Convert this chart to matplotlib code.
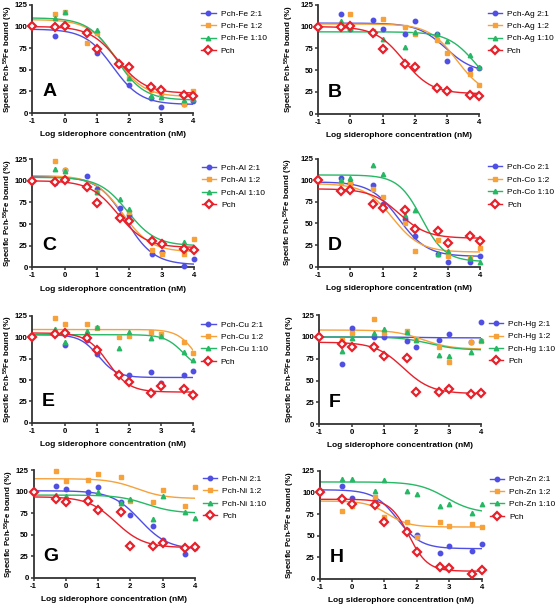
import numpy as np
import matplotlib
matplotlib.use('Agg')
import matplotlib.pyplot as plt

plt.rcParams['font.family'] = ['Liberation Sans', 'DejaVu Sans']
plt.rcParams['mathtext.fontset'] = 'custom'
plt.rcParams['mathtext.rm'] = 'Liberation Sans:bold'
plt.rcParams['mathtext.default'] = 'rm'
plt.rcParams['axes.unicode_minus'] = False

# log concentrations (nM)
x_pch = [-1, -0.3, 0, 0.7, 1, 1.7, 2, 2.7, 3, 3.7, 4]
x_mix = [-0.3, 0, 0.7, 1, 1.7, 2, 2.7, 3, 3.7, 4]

metals = ['Fe', 'Ag', 'Al', 'Co', 'Cu', 'Hg', 'Ni', 'Zn']
letters = ['A', 'B', 'C', 'D', 'E', 'F', 'G', 'H']
ratios = ['2:1', '1:2', '1:10']

# measured points, Pch-metal 2:1 / 1:2 / 1:10 and Pch alone
fe_21 = [89, 100, 95, 69, 55, 33, 17, 7, 10, 14]
fe_12 = [114, 117, 81, 93, 57, 40, 27, 22, 11, 25]
fe_110 = [110, 117, 95, 96, 58, 40, 20, 19, 15, 16]
ag_21 = [115, 97, 108, 97, 92, 106, 91, 60, 51, 52]
ag_12 = [103, 115, 95, 109, 99, 92, 85, 70, 46, 33]
ag_110 = [107, 98, 93, 86, 77, 94, 91, 83, 67, 54]
al_21 = [97, 113, 105, 91, 69, 60, 15, 18, 2, 10]
al_12 = [123, 112, 95, 87, 60, 64, 20, 15, 15, 33]
al_110 = [114, 111, 94, 87, 79, 67, 32, 29, 29, 21]
co_21 = [103, 97, 94, 72, 55, 36, 15, 5, 6, 12]
co_12 = [97, 96, 90, 80, 50, 18, 31, 12, 10, 22]
co_110 = [100, 102, 117, 107, 60, 65, 15, 18, 10, 5]
cu_21 = [104, 91, 97, 81, 57, 56, 59, 46, 56, 60]
cu_12 = [122, 116, 116, 111, 100, 102, 106, 104, 94, 82]
cu_110 = [110, 94, 107, 112, 87, 106, 99, 102, 83, 74]
hg_21 = [69, 110, 100, 100, 95, 89, 96, 104, 94, 117]
hg_12 = [97, 105, 121, 105, 107, 98, 89, 71, 94, 95]
hg_110 = [84, 99, 105, 109, 106, 96, 79, 78, 83, 97]
ni_21 = [107, 103, 99, 105, 88, 73, 60, 44, 28, 35]
ni_12 = [124, 112, 114, 121, 117, 89, 88, 102, 83, 105]
ni_110 = [96, 95, 94, 99, 87, 91, 68, 95, 76, 69]
zn_21 = [107, 94, 91, 68, 57, 51, 30, 38, 32, 40]
zn_12 = [78, 84, 95, 71, 66, 48, 66, 61, 63, 60]
zn_110 = [115, 115, 101, 114, 101, 98, 84, 86, 76, 87]

pch_ABC = [100, 99, 101, 93, 74, 57, 53.5, 30, 26.5, 21, 20]
pch_D = [100, 88, 89, 72.5, 68, 66, 44, 41, 28, 35.5, 30]
pch_E = [100, 104, 105, 99.5, 85.5, 56, 48, 35, 43, 39.5, 33]
pch_FG = [100, 92, 88.5, 89, 78.5, 76, 37, 37, 40.5, 35, 36]
pch_H = [100, 92, 87, 85, 66, 54, 31, 14, 13, 6, 10]

mix_points = [
    [fe_21, fe_12, fe_110], [ag_21, ag_12, ag_110],
    [al_21, al_12, al_110], [co_21, co_12, co_110],
    [cu_21, cu_12, cu_110], [hg_21, hg_12, hg_110],
    [ni_21, ni_12, ni_110], [zn_21, zn_12, zn_110],
]
pch_points = [pch_ABC, pch_ABC, pch_ABC, pch_D, pch_E, pch_FG, pch_FG, pch_H]

# fitted sigmoid parameters per curve: top, bottom, logIC50, hill
# order per panel: 2:1, 1:2, 1:10, Pch
fits = [
    [(97, 10, 1.5, 1), (108, 19, 1.6, 1), (110, 15, 1.6, 1), (100, 23, 1.65, 1)],
    [(104, 47, 2.95, 1), (103, 20, 3.3, 1), (94, 20, 3.9, 1), (100, 23, 1.65, 1)],
    [(105, 3, 1.9, 1), (106, 18, 1.8, 1), (104, 25, 1.95, 1), (100, 23, 1.65, 1)],
    [(98, 12, 1.5, 1), (96, 17, 1.3, 1), (106, 6, 2.2, 1.2), (90, 33, 1.5, 1)],
    [(103, 53, 1.05, 1.5), (109, 50, 4.1, 1.5), (103, 60, 3.7, 1.5), (105, 36, 1.35, 1.3)],
    [(100, 99, 2.0, 1), (108, 86, 2.2, 1), (100, 85, 2.4, 1), (94, 35, 1.6, 1)],
    [(101, 33, 2.3, 1), (115, 92, 2.2, 1), (96, 75, 2.5, 1), (94, 35, 1.55, 1)],
    [(103, 35, 1.4, 1.2), (90, 60, 1.1, 1.3), (112, 76, 2.9, 1), (92, 9, 1.75, 1.5)],
]

colors = ['#4f4fe3', '#f7a13a', '#27b865']
markers = ['o', 's', '^']
red = '#e8202a'

# axes boxes [left, bottom, width, height] in figure fraction
boxes = [
    [0.058, 0.813, 0.287, 0.179], [0.568, 0.812, 0.288, 0.180],
    [0.058, 0.558, 0.288, 0.179], [0.568, 0.559, 0.289, 0.179],
    [0.058, 0.301, 0.287, 0.177], [0.570, 0.299, 0.289, 0.180],
    [0.060, 0.045, 0.288, 0.178], [0.571, 0.043, 0.289, 0.179],
]


def sigmoid(x, top, bottom, logic50, hill):
    return bottom + (top - bottom) / (1 + 10 ** ((x - logic50) * hill))


fig = plt.figure(figsize=(5.6, 6.05), dpi=100)
xs = np.linspace(-1, 4, 200)

for i in range(8):
    ax = fig.add_axes(boxes[i])
    handles = []
    for j in range(3):
        ax.plot(xs, sigmoid(xs, *fits[i][j]), color=colors[j], lw=1.0, zorder=2)
        ax.plot(x_mix, mix_points[i][j], marker=markers[j], ls='none',
                color=colors[j], ms=3.2, clip_on=False, zorder=3)
        h, = ax.plot([], [], color=colors[j], marker=markers[j], ms=3.2, lw=1.0,
                     label='Pch-%s %s' % (metals[i], ratios[j]))
        handles.append(h)
    ax.plot(xs, sigmoid(xs, *fits[i][3]), color=red, lw=1.0, zorder=4)
    ax.plot(x_pch, pch_points[i], marker='D', ls='none', mfc='white', mec=red,
            mew=1.6, ms=4.5, clip_on=False, zorder=5)
    h, = ax.plot([], [], color=red, marker='D', mfc='white', mec=red, mew=1.6,
                 ms=4, lw=1.0, label='Pch')
    handles.append(h)

    ax.set_xlim(-1, 4)
    ax.set_ylim(0, 125)
    ax.set_xticks([-1, 0, 1, 2, 3, 4])
    ax.set_yticks([0, 25, 50, 75, 100, 125])
    for s in ['top', 'right']:
        ax.spines[s].set_visible(False)
    for s in ['left', 'bottom']:
        ax.spines[s].set_linewidth(1.3)
        ax.spines[s].set_color('#333333')
    ax.tick_params(length=2.5, width=1.1, pad=1, labelsize=5.6, color='#333333')
    for lab in ax.get_xticklabels() + ax.get_yticklabels():
        lab.set_fontweight('bold')
    ax.set_xlabel('Log siderophore concentration (nM)', fontsize=6.0,
                  fontweight='bold', labelpad=4.5)
    ax.set_ylabel('Specific Pch-$^{55}$Fe bound (%)', fontsize=5.7,
                  fontweight='bold')
    ax.yaxis.set_label_coords(-0.11 if i % 2 == 0 else -0.14, 0.5)
    ax.text(0.06, 0.12, letters[i], transform=ax.transAxes, fontsize=14,
            fontweight='bold', ha='left', va='bottom')
    ax.legend(handles=handles, loc='upper left', bbox_to_anchor=(1.03, 0.985),
              frameon=False, fontsize=6.0, handlelength=1.7, handletextpad=0.6,
              labelspacing=0.55, borderaxespad=0)

fig.savefig('out.png', dpi=100)
